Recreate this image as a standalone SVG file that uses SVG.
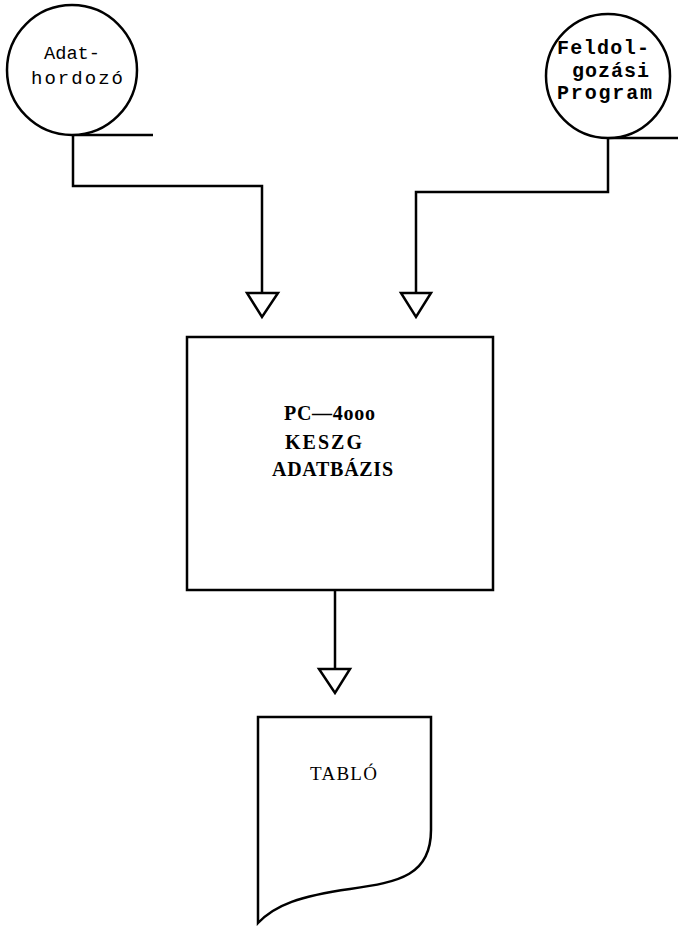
<svg xmlns="http://www.w3.org/2000/svg" width="678" height="926" viewBox="0 0 678 926">
<style>
.s{fill:none;stroke:#000;stroke-width:2.5}
.n{fill:#fff;stroke:#000;stroke-width:2.5}
.a{fill:#fff;stroke:#000;stroke-width:2.5;stroke-linejoin:miter}
text{fill:#000}
.t{font-family:"Liberation Mono","DejaVu Sans Mono",monospace;font-size:19px}
.r{font-family:"Liberation Mono","DejaVu Sans Mono",monospace;font-size:20px;font-weight:bold}
.b{font-family:"Liberation Serif","DejaVu Serif",serif;font-size:20px;font-weight:bold}
.p{font-family:"Liberation Serif","DejaVu Serif",serif;font-size:19px}
</style>
<rect width="678" height="926" fill="#fff"/>
<g id="connectors">
<polyline class="s" points="72,135 153,135"/>
<polyline class="s" points="73,135 73,186 262,186 262,292"/>
<polygon class="a" points="247,293 278,293 262,317"/>
<polyline class="s" points="608,138 678,138"/>
<polyline class="s" points="608,138 608,192 416,192 416,292"/>
<polygon class="a" points="401,293 431,293 416,317"/>
<polyline class="s" points="335,590 335,668"/>
<polygon class="a" points="319,669 350,669 335,693"/>
</g>
<g id="adathordozo">
<circle class="n" cx="72" cy="70" r="65"/>
<text class="t" x="44" y="59" textLength="56" lengthAdjust="spacingAndGlyphs">Adat-</text>
<text class="t" x="31" y="84" textLength="92" lengthAdjust="spacing">hordozó</text>
</g>
<g id="feldolgozasi">
<circle class="n" cx="608" cy="76" r="62"/>
<text class="r" x="557" y="54" textLength="92" lengthAdjust="spacing">Feldol-</text>
<text class="r" x="572" y="77" textLength="77" lengthAdjust="spacing">gozási</text>
<text class="r" x="557" y="99" textLength="95" lengthAdjust="spacing">Program</text>
</g>
<g id="adatbazis">
<rect class="n" x="187" y="337" width="306" height="253"/>
<text class="b" x="284" y="420" textLength="91" lengthAdjust="spacing">PC—4ooo</text>
<text class="b" x="285" y="449" textLength="77" lengthAdjust="spacing">KESZG</text>
<text class="b" x="272" y="476" textLength="121" lengthAdjust="spacing">ADATBÁZIS</text>
</g>
<g id="tablo">
<path class="n" d="M258,717 L431,717 L431,830 C431,875 400,882 350,889 C300,896 275,905 258,923 Z"/>
<text class="p" x="310" y="780" textLength="67" lengthAdjust="spacing">TABLÓ</text>
</g>
</svg>
